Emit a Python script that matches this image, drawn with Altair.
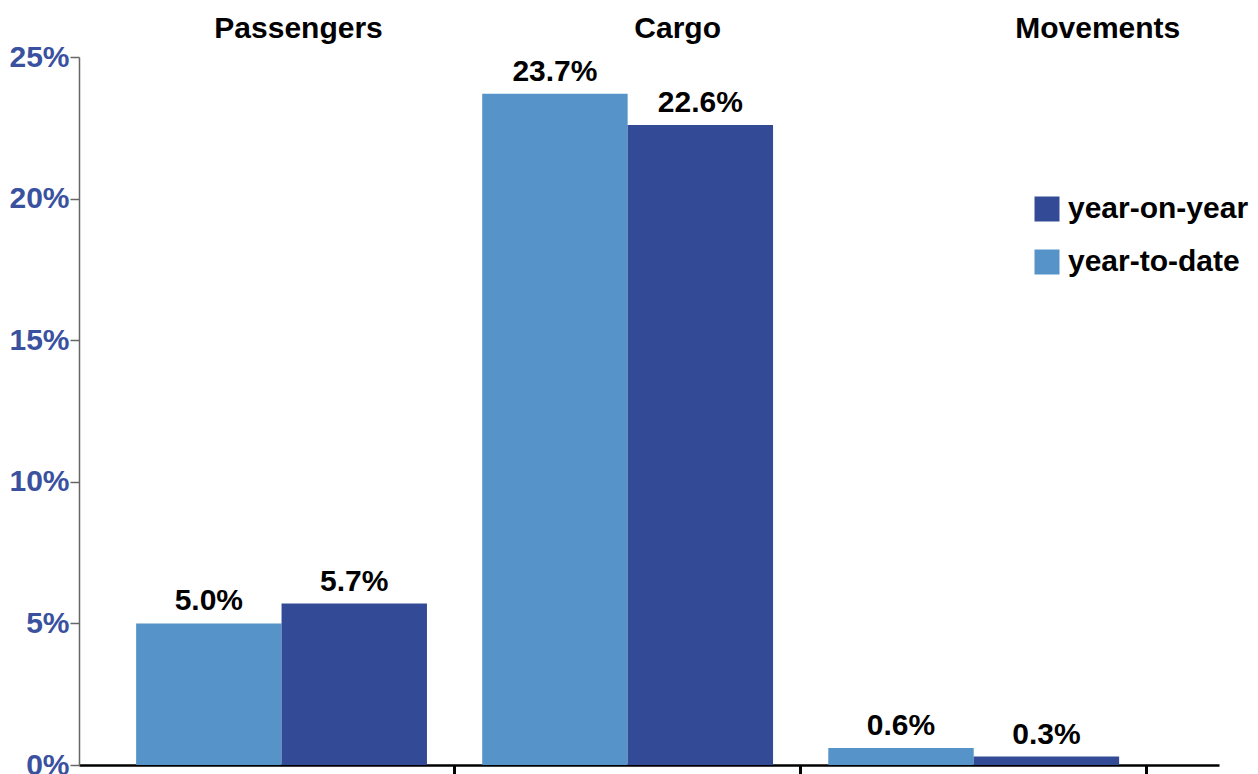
import altair as alt
import pandas as pd

# Growth figures per traffic category (percent)
categories = ["Passengers", "Cargo", "Movements"]
year_to_date = [5.0, 23.7, 0.6]
year_on_year = [5.7, 22.6, 0.3]
series_legend_order = ["year-on-year", "year-to-date"]
series_bar_order = ["year-to-date", "year-on-year"]
y_ticks = [0, 5, 10, 15, 20, 25]

rows = []
for cat, ytd, yoy in zip(categories, year_to_date, year_on_year):
    rows.append({"category": cat, "series": "year-to-date", "value": ytd})
    rows.append({"category": cat, "series": "year-on-year", "value": yoy})
df = pd.DataFrame(rows)
df["label"] = df["value"].map(lambda v: f"{v:.1f}%")

DARK = "#334A96"
LIGHT = "#5593C8"
AXIS_BLUE = "#3A51A0"
FONT = "Liberation Sans"
TEXT_SIZE = 30

x_enc = alt.X(
    "category:N",
    sort=categories,
    scale=alt.Scale(paddingInner=0, paddingOuter=0.147, align=0.29),
    axis=alt.Axis(
        title=None,
        labels=False,
        domainColor="black",
        domainWidth=2.5,
        tickColor="black",
        tickWidth=3,
        tickSize=9,
        bandPosition=1,
    ),
)
xoff_enc = alt.XOffset(
    "series:N",
    sort=series_bar_order,
    scale=alt.Scale(paddingInner=0, paddingOuter=0.19),
)
y_enc = alt.Y(
    "value:Q",
    scale=alt.Scale(domain=[0, 25], nice=False),
    axis=alt.Axis(
        title=None,
        values=y_ticks,
        labelExpr="datum.value + '%'",
        labelFont=FONT,
        labelFontSize=TEXT_SIZE,
        labelFontWeight="bold",
        labelColor=AXIS_BLUE,
        labelPadding=1,
        domainColor="#666666",
        domainWidth=1.5,
        tickColor="#666666",
        tickWidth=1.5,
        tickSize=9,
        grid=False,
    ),
)

bars = alt.Chart(df).mark_bar().encode(
    x=x_enc,
    xOffset=xoff_enc,
    y=y_enc,
    color=alt.Color(
        "series:N",
        scale=alt.Scale(domain=series_legend_order, range=[DARK, LIGHT]),
        legend=alt.Legend(
            title=None,
            orient="none",
            legendX=953,
            legendY=137,
            symbolType="square",
            symbolSize=625,
            symbolStrokeWidth=0,
            symbolOpacity=1,
            labelFont=FONT,
            labelFontSize=TEXT_SIZE,
            labelFontWeight="bold",
            labelColor="black",
            labelOffset=6,
            labelLimit=400,
            rowPadding=23,
        ),
    ),
)

labels = alt.Chart(df).mark_text(
    baseline="bottom",
    dy=-7,
    font=FONT,
    fontSize=TEXT_SIZE,
    fontWeight="bold",
    color="black",
).encode(
    x=alt.X("category:N", sort=categories),
    xOffset=alt.XOffset("series:N", sort=series_bar_order),
    y="value:Q",
    text="label:N",
)

# Category headings above the plot, each nudged to the right of its group
titles_df = pd.DataFrame({"category": categories})
heading_shift = {"Passengers": 17, "Cargo": 50, "Movements": 124}
headings = []
for cat in categories:
    headings.append(
        alt.Chart(titles_df)
        .transform_filter(alt.datum.category == cat)
        .mark_text(
            baseline="alphabetic",
            y=-19,
            dx=heading_shift[cat],
            font=FONT,
            fontSize=TEXT_SIZE,
            fontWeight="bold",
            color="black",
        )
        .encode(x=alt.X("category:N", sort=categories), text="category:N")
    )

chart = (
    alt.layer(bars, labels, *headings)
    .properties(
        width=1140,
        height=708,
        autosize=alt.AutoSizeParams(type="none"),
        padding={"left": 79, "top": 57, "right": 39, "bottom": 9},
        background="white",
    )
    .configure_view(stroke=None)
)

chart.save("out.html", embed_options={"renderer": "svg", "actions": False})
